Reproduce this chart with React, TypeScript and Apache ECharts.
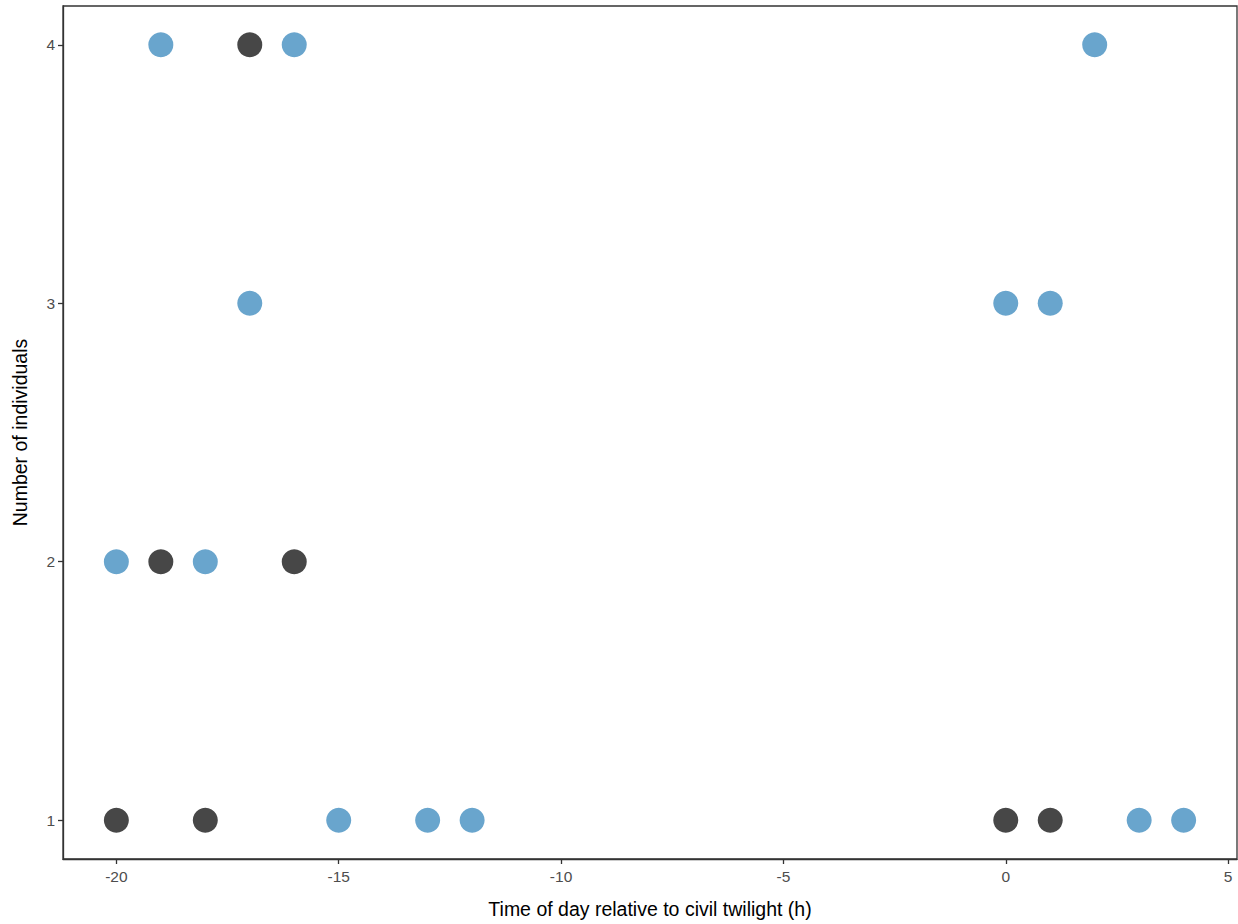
import React, { useEffect, useRef } from "react";
import * as echarts from "echarts";

const blueX = [-19, -16, 2, -17, 0, 1, -20, -18, -15, -13, -12, 3, 4];
const blueY = [4, 4, 4, 3, 3, 3, 2, 2, 1, 1, 1, 1, 1];
const darkX = [-17, -19, -16, -20, -18, 0, 1];
const darkY = [4, 2, 2, 1, 1, 1, 1];
const xTicks = [-20, -15, -10, -5, 0, 5];
const yTicks = [1, 2, 3, 4];

export default function App() {
  const ref = useRef<HTMLDivElement>(null);
  useEffect(() => {
    const chart = echarts.init(ref.current!, null, { renderer: "svg" });
    const axisLabel = { color: "#4d4d4d", fontSize: 15.5, fontFamily: "Liberation Sans, Arial, sans-serif" };
    chart.setOption({
      animation: false,
      backgroundColor: "#ffffff",
      grid: {
        left: 63, right: 1, top: 6, bottom: 65,
        outerBoundsMode: "none",
        containLabel: false,
        show: true, borderColor: "#333333", borderWidth: 1.3, backgroundColor: "transparent",
      },
      xAxis: {
        type: "value",
        min: -21.2,
        max: 5.2,
        interval: 5,
        name: "Time of day relative to civil twilight (h)",
        nameLocation: "middle",
        nameGap: 40,
        nameTextStyle: { color: "#000", fontSize: 19.5, fontFamily: "Liberation Sans, Arial, sans-serif" },
        axisLine: { show: true, onZero: false, lineStyle: { color: "#333333", width: 1.3 } },
        axisTick: { show: true, length: 5, lineStyle: { color: "#333333", width: 1.3 }, customValues: xTicks },
        axisLabel: { ...axisLabel, margin: 9, customValues: xTicks, formatter: (v: number) => String(v) },
        splitLine: { show: false },
      },
      yAxis: {
        type: "value",
        min: 0.85,
        max: 4.15,
        name: "Number of individuals",
        nameLocation: "middle",
        nameGap: 33,
        nameTextStyle: { color: "#000", fontSize: 19.5, fontFamily: "Liberation Sans, Arial, sans-serif" },
        axisLine: { show: true, onZero: false, lineStyle: { color: "#333333", width: 1.3 } },
        axisTick: { show: true, length: 5, lineStyle: { color: "#333333", width: 1.3 }, customValues: yTicks },
        axisLabel: { ...axisLabel, margin: 8, customValues: yTicks, formatter: (v: number) => String(v) },
        splitLine: { show: false },
      },
      series: [
        {
          type: "scatter",
          symbolSize: 25,
          itemStyle: { color: "#474747", opacity: 1 },
          data: darkX.map((x, i) => [x, darkY[i]]),
        },
        {
          type: "scatter",
          symbolSize: 25,
          itemStyle: { color: "#69a5cd", opacity: 1 },
          data: blueX.map((x, i) => [x, blueY[i]]),
        },
      ],
    });
    return () => chart.dispose();
  }, []);
  return (
    <div
      ref={ref}
      style={{ position: "fixed", left: 0, top: 0, width: 1238, height: 924, background: "#fff" }}
    />
  );
}
